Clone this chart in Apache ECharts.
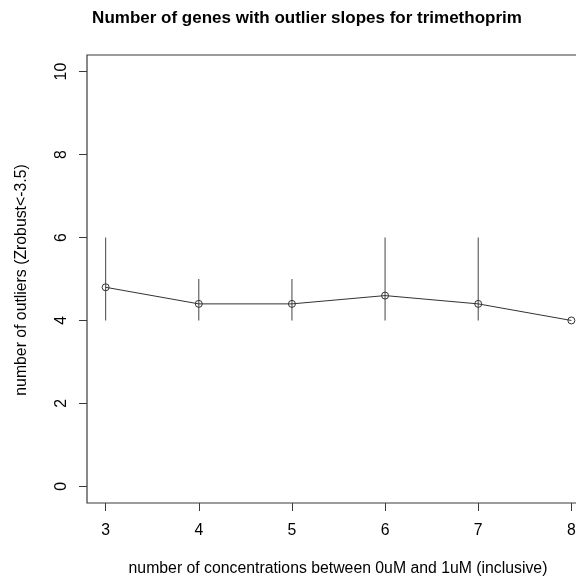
<!DOCTYPE html>
<html>
<head>
<meta charset="utf-8">
<script src="https://cdn.jsdelivr.net/npm/echarts@6/dist/echarts.min.js"></script>
<style>
  html, body { margin: 0; padding: 0; background: #fff; overflow: hidden; }
  /* the plot region runs a little past the right edge of the window */
  #chart { width: 590px; height: 579px; }
</style>
</head>
<body>
<div id="chart"></div>
<script>
// Number of concentrations in the 0uM–1uM window
const concentrations = [3, 4, 5, 6, 7, 8];
// Mean outlier count per window size
const meanOutliers = [4.8, 4.4, 4.4, 4.6, 4.4, 4.0];
// Range (min / max) of outlier counts
const lowOutliers = [4, 4, 4, 4, 4, 4];
const highOutliers = [6, 5, 5, 6, 6, 4];
// Axis ticks
const xTicks = [3, 4, 5, 6, 7, 8];
const yTicks = [0, 2, 4, 6, 8, 10];

const font = '"Liberation Sans", Arial, Helvetica, sans-serif';
const labelSize = 15.8;

const chart = echarts.init(document.getElementById('chart'), null, { renderer: 'canvas' });

const meanData = concentrations.map((c, i) => [c, meanOutliers[i]]);
const rangeData = concentrations.map((c, i) => [c, lowOutliers[i], highOutliers[i]]);

chart.setOption({
  animation: false,
  backgroundColor: '#ffffff',
  grid: {
    left: 87, right: 0, top: 55, bottom: 76,
    show: true, borderColor: '#3a3a3a', borderWidth: 1.2,
    backgroundColor: 'transparent'
  },
  graphic: [
    {
      type: 'text',
      style: {
        text: 'Number of genes with outlier slopes for trimethoprim',
        x: 307, y: 18, textAlign: 'center', textVerticalAlign: 'middle',
        font: 'bold 17px ' + font, fill: '#000'
      }
    },
    {
      type: 'text',
      style: {
        text: 'number of concentrations between 0uM and 1uM (inclusive)',
        x: 338, y: 569, textAlign: 'center', textVerticalAlign: 'middle',
        font: labelSize + 'px ' + font, fill: '#000'
      }
    },
    {
      type: 'text',
      x: 22, y: 280, rotation: Math.PI / 2,
      style: {
        text: 'number of outliers (Zrobust<-3.5)',
        x: 0, y: 0, textAlign: 'center', textVerticalAlign: 'middle',
        font: labelSize + 'px ' + font, fill: '#000'
      }
    }
  ],
  xAxis: {
    type: 'value',
    min: 2.8, max: 8.2,
    axisLine: { show: false, onZero: false },
    splitLine: { show: false },
    axisTick: {
      show: true, length: 8, inside: false, customValues: xTicks,
      lineStyle: { color: '#3a3a3a', width: 1 }
    },
    axisLabel: {
      show: true, customValues: xTicks, margin: 20,
      color: '#000', fontSize: labelSize, fontFamily: font,
      showMinLabel: true, showMaxLabel: true
    }
  },
  yAxis: {
    type: 'value',
    min: -0.4, max: 10.4,
    axisLine: { show: false, onZero: false },
    splitLine: { show: false },
    axisTick: {
      show: true, length: 8, inside: false, customValues: yTicks,
      lineStyle: { color: '#3a3a3a', width: 1 }
    },
    axisLabel: {
      show: true, customValues: yTicks, rotate: 90, margin: 17,
      color: '#000', fontSize: labelSize, fontFamily: font
    }
  },
  series: [
    {
      type: 'custom',
      name: 'range',
      data: rangeData,
      z: 1,
      renderItem: function (params, api) {
        const lo = api.coord([api.value(0), api.value(1)]);
        const hi = api.coord([api.value(0), api.value(2)]);
        return {
          type: 'line',
          shape: { x1: lo[0], y1: lo[1], x2: hi[0], y2: hi[1] },
          style: { stroke: '#555555', lineWidth: 1.1 }
        };
      }
    },
    {
      type: 'line',
      name: 'mean',
      data: meanData,
      z: 2,
      symbol: 'circle',
      symbolSize: 7,
      showAllSymbol: true,
      lineStyle: { color: '#333333', width: 1 },
      itemStyle: { color: 'rgba(0,0,0,0)', borderColor: '#333333', borderWidth: 1 },
      clip: false
    }
  ]
});
</script>
</body>
</html>
